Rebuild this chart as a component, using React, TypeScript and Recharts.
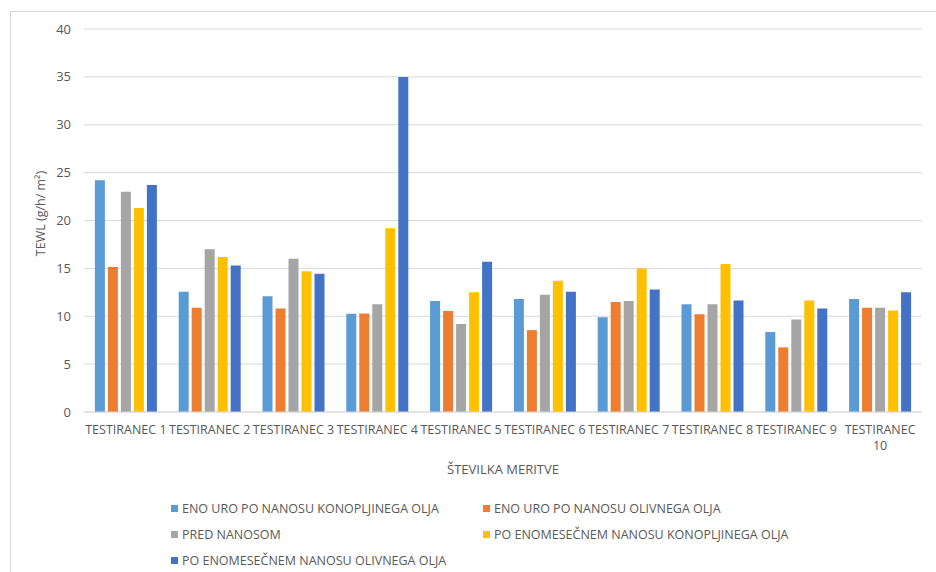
import { BarChart, Bar, XAxis, YAxis, CartesianGrid, Legend } from "recharts";

const categories = [
  "TESTIRANEC 1", "TESTIRANEC 2", "TESTIRANEC 3", "TESTIRANEC 4", "TESTIRANEC 5",
  "TESTIRANEC 6", "TESTIRANEC 7", "TESTIRANEC 8", "TESTIRANEC 9", "TESTIRANEC 10",
];

const enoUroKonoplja = [24.2, 12.55, 12.1, 10.25, 11.6, 11.8, 9.9, 11.25, 8.35, 11.8];
const enoUroOlivno = [15.15, 10.9, 10.8, 10.3, 10.55, 8.55, 11.5, 10.2, 6.75, 10.9];
const predNanosom = [23.0, 17.0, 16.0, 11.25, 9.2, 12.25, 11.6, 11.25, 9.65, 10.9];
const poMesecuKonoplja = [21.3, 16.2, 14.7, 19.2, 12.5, 13.7, 15.0, 15.45, 11.65, 10.6];
const poMesecuOlivno = [23.7, 15.3, 14.45, 35.0, 15.7, 12.55, 12.8, 11.65, 10.8, 12.5];

const yTicks = [0, 5, 10, 15, 20, 25, 30, 35, 40];

const series = [
  { key: "a", name: "ENO URO PO NANOSU KONOPLJINEGA OLJA", color: "#5B9BD5", values: enoUroKonoplja },
  { key: "b", name: "ENO URO PO NANOSU OLIVNEGA OLJA", color: "#ED7D31", values: enoUroOlivno },
  { key: "c", name: "PRED NANOSOM", color: "#A5A5A5", values: predNanosom },
  { key: "d", name: "PO ENOMESEČNEM NANOSU KONOPLJINEGA OLJA", color: "#FFC000", values: poMesecuKonoplja },
  { key: "e", name: "PO ENOMESEČNEM NANOSU OLIVNEGA OLJA", color: "#4472C4", values: poMesecuOlivno },
];

const data = categories.map((name, i) => {
  const row: Record<string, string | number> = { name };
  series.forEach((s) => (row[s.key] = s.values[i]));
  return row;
});

const FONT = "'Open Sans', 'Liberation Sans', sans-serif";
const TEXT = "#595959";

function CategoryTick(props: any) {
  const { x, y, payload } = props;
  const label: string = payload.value;
  const lines = label.length > 12 ? label.split(" ") : [label];
  return (
    <text x={x} y={y} textAnchor="middle" fill={TEXT} fontSize={12.5} fontFamily={FONT}>
      {lines.map((l, i) => (
        <tspan key={i} x={x} dy={i === 0 ? 14 : 16}>
          {l}
        </tspan>
      ))}
    </text>
  );
}

function renderLegend() {
  return (
    <div
      style={{
        display: "grid",
        gridTemplateColumns: "312px 320px",
        paddingLeft: 171,
        paddingTop: 15,
        height: 92,
        boxSizing: "border-box",
        fontFamily: FONT,
        fontSize: 12.5,
        color: TEXT,
      }}
    >
      {series.map((s) => (
        <div key={s.key} style={{ display: "flex", alignItems: "center", height: 26 }}>
          <span style={{ width: 7, height: 7, background: s.color, marginRight: 4, display: "inline-block" }} />
          {s.name}
        </div>
      ))}
    </div>
  );
}

export default function App() {
  return (
    <div style={{ position: "fixed", left: 0, top: 0, width: 936, height: 572, background: "#fff", overflow: "hidden" }}>
      <div
        style={{
          position: "absolute",
          left: 10,
          top: 11,
          width: 940,
          height: 580,
          border: "1px solid #D9D9D9",
        }}
      />
      <div style={{ position: "absolute", left: 0, top: 0 }}>
        <BarChart
          width={936}
          height={572}
          data={data}
          margin={{ top: 29, right: 14, left: 0, bottom: 0 }}
          barCategoryGap="13%"
          barGap={3}
        >
          <CartesianGrid vertical={false} stroke="#D9D9D9" />
          <XAxis
            dataKey="name"
            axisLine={{ stroke: "#D9D9D9" }}
            tickLine={false}
            height={68}
            interval={0}
            tick={<CategoryTick />}
            label={{
              value: "ŠTEVILKA MERITVE",
              position: "insideBottom",
              offset: 6,
              fill: TEXT,
              fontSize: 13,
              fontFamily: FONT,
            }}
          />
          <YAxis
            width={84}
            domain={[0, 40]}
            ticks={yTicks}
            axisLine={false}
            tickLine={false}
            tickSize={0}
            tickMargin={13}
            tick={{ fill: TEXT, fontSize: 13, fontFamily: FONT }}
            label={{
              value: "TEWL (g/h/ m²)",
              angle: -90,
              position: "insideLeft",
              offset: 41,
              dy: -7,
              fill: TEXT,
              fontSize: 12.5,
              fontFamily: FONT,
              style: { textAnchor: "middle" },
            }}
          />
          <Legend verticalAlign="bottom" content={renderLegend} wrapperStyle={{ left: 0, width: 936 }} />
          {series.map((s) => (
            <Bar key={s.key} dataKey={s.key} name={s.name} fill={s.color} isAnimationActive={false} />
          ))}
        </BarChart>
      </div>
    </div>
  );
}
